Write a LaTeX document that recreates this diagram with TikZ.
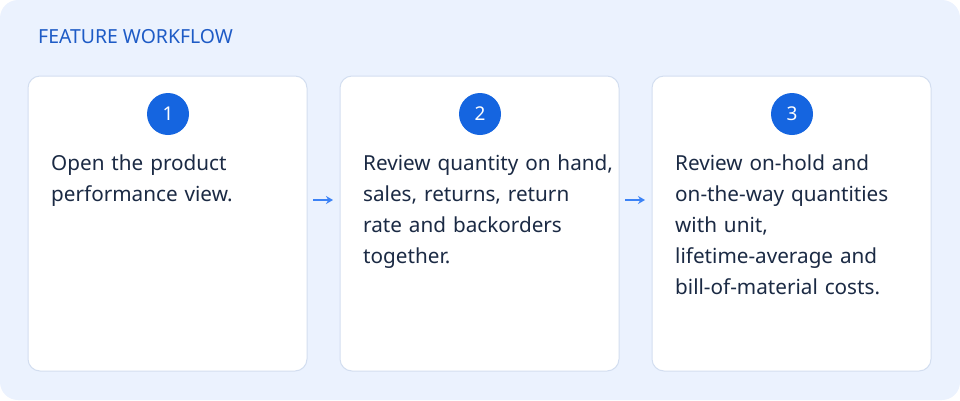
\documentclass[tikz,border=0pt]{standalone}
\usepackage{fontspec}
\setmainfont{Noto Sans}
\usetikzlibrary{arrows.meta}
\definecolor{bgc}{HTML}{EBF2FE}
\definecolor{bord}{HTML}{D3DEF0}
\definecolor{blu}{HTML}{1565E0}
\definecolor{ttl}{HTML}{1E5BC6}
\definecolor{txt}{HTML}{1B2A44}
\definecolor{arr}{HTML}{3B82F6}
\begin{document}
\begin{tikzpicture}[x=1pt,y=-1pt,
  card/.style={draw=bord,line width=1pt,fill=white,rounded corners=12pt},
  num/.style={circle,fill=blu,minimum size=42pt,inner sep=0pt,text=white,font=\fontsize{19}{22}\selectfont},
  body/.style={anchor=north west,align=left,inner sep=0pt,text=txt,font=\fontsize{20.7}{31}\selectfont,text width=270pt},
  link/.style={-{Stealth[length=7pt,width=8pt]},draw=arr,line width=1.6pt}]
\fill[bgc,rounded corners=18pt] (0,0) rectangle (960,400);
\node[anchor=west,text=ttl,font=\fontsize{19.4}{21}\selectfont,inner sep=0pt] (t) at (38,37) {FEATURE WORKFLOW};
\draw[card] (28,76) rectangle (307,371);
\draw[card] (340,76) rectangle (619,371);
\draw[card] (652,76) rectangle (931,371);
\node[num] (n1) at (168,114) {1};
\node[num] (n2) at (480,114) {2};
\node[num] (n3) at (792,114) {3};
\node[body] (b1) at (51,155) {Open the product\\performance view.};
\node[body] (b2) at (363,155) {Review quantity on hand,\\sales, returns, return\\rate and backorders\\together.};
\node[body] (b3) at (675,155) {Review on-hold and\\on-the-way quantities\\with unit,\\lifetime-average and\\bill-of-material costs.};
\coordinate (a1) at (313,200); \coordinate (a2) at (333,200);
\coordinate (c1) at (625,200); \coordinate (c2) at (645,200);
\draw[link] (a1) -- (a2);
\draw[link] (c1) -- (c2);
\end{tikzpicture}
\end{document}
